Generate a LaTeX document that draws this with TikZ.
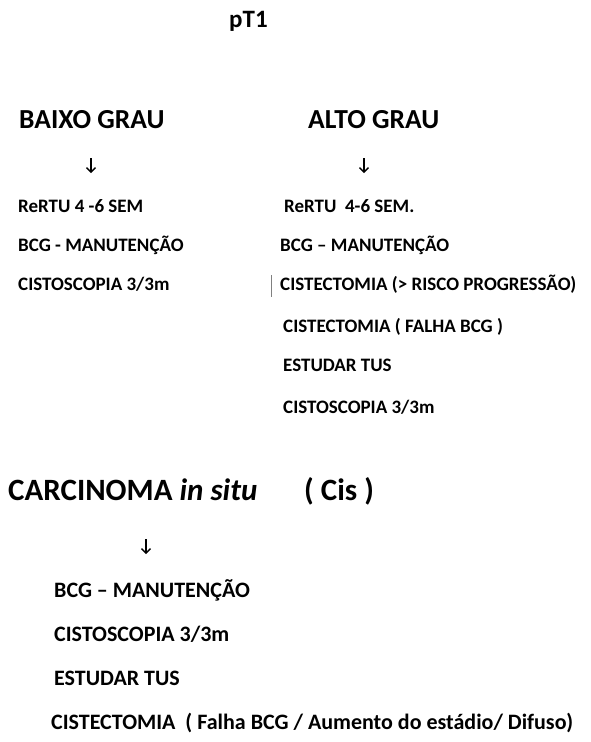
\documentclass[tikz,border=0pt]{standalone}
\usepackage{fontspec}
\setmainfont{Carlito}
\usepackage{tikz}
\usetikzlibrary{arrows.meta, positioning}

\newcommand{\itemfont}{\fontsize{19}{23}\selectfont\bfseries}
\newcommand{\cisfont}{\fontsize{22}{26}\selectfont\bfseries}
\newcommand{\headfont}{\fontsize{27.5}{33}\selectfont\bfseries}

\begin{document}
\begin{tikzpicture}[x=1pt, y=-1pt,
  item/.style={inner sep=0pt, anchor=base west, font=\itemfont},
  cisitem/.style={inner sep=0pt, anchor=base west, font=\cisfont},
  heading/.style={inner sep=0pt, anchor=base west, font=\headfont},
  downarrow/.style={-{Straight Barb[length=4.5pt, width=9pt]}, line width=1.3pt}]

  \useasboundingbox (0,0) rectangle (590,742);

  % Title
  \node[heading, font=\fontsize{25}{30}\selectfont\bfseries] (T) at (229, 27) {pT1};

  % Baixo grau
  \node[heading] (BG) at (19, 128) {BAIXO GRAU};
  \coordinate (BGa) at (91, 158);
  \coordinate (BGb) at (91, 173);
  \draw[downarrow] (BGa) -- (BGb);
  \node[item] (B1) at (18, 212) {ReRTU 4 -6 SEM};
  \node[item, below=39pt of B1.base west, anchor=base west] (B2) {BCG - MANUTENÇÃO};
  \node[item, below=39pt of B2.base west, anchor=base west] (B3) {CISTOSCOPIA 3/3m};

  % Alto grau
  \node[heading] (AG) at (308, 128) {ALTO GRAU};
  \coordinate (AGa) at (364, 158);
  \coordinate (AGb) at (364, 173);
  \draw[downarrow] (AGa) -- (AGb);
  \node[item] (A1) at (284, 212) {ReRTU\ \ 4-6 SEM.};
  \node[item, below=39pt of A1.base west, anchor=base west, xshift=-4pt] (A2) {BCG -- MANUTENÇÃO};
  \node[item, below=39pt of A2.base west, anchor=base west] (A3) {CISTECTOMIA (> RISCO PROGRESSÃO)};
  \node[item, below=42pt of A3.base west, anchor=base west, xshift=3pt] (A4) {CISTECTOMIA ( FALHA BCG )};
  \node[item, below=39pt of A4.base west, anchor=base west] (A5) {ESTUDAR TUS};
  \node[item, below=42pt of A5.base west, anchor=base west] (A6) {CISTOSCOPIA 3/3m};
  \coordinate (bar1) at (271, 275);
  \coordinate (bar2) at (271, 297);
  \draw[gray, line width=0.9pt] (bar1) -- (bar2);

  % Carcinoma in situ
  \node[heading, font=\fontsize{31}{37}\selectfont\bfseries] (CIS) at (8, 500) {CARCINOMA \textit{in situ}};
  \node[heading, font=\fontsize{31}{37}\selectfont\bfseries] (CIS2) at (304, 500) {( Cis )};
  \coordinate (CISa) at (146, 539);
  \coordinate (CISb) at (146, 554);
  \draw[downarrow] (CISa) -- (CISb);
  \node[cisitem] (C1) at (54, 597) {BCG -- MANUTENÇÃO};
  \node[cisitem, below=44pt of C1.base west, anchor=base west] (C2) {CISTOSCOPIA 3/3m};
  \node[cisitem, below=44pt of C2.base west, anchor=base west] (C3) {ESTUDAR TUS};
  \node[cisitem, below=44pt of C3.base west, anchor=base west, xshift=-3pt] (C4) {CISTECTOMIA\ \ ( Falha BCG / Aumento do estádio/ Difuso)};

\end{tikzpicture}
\end{document}
